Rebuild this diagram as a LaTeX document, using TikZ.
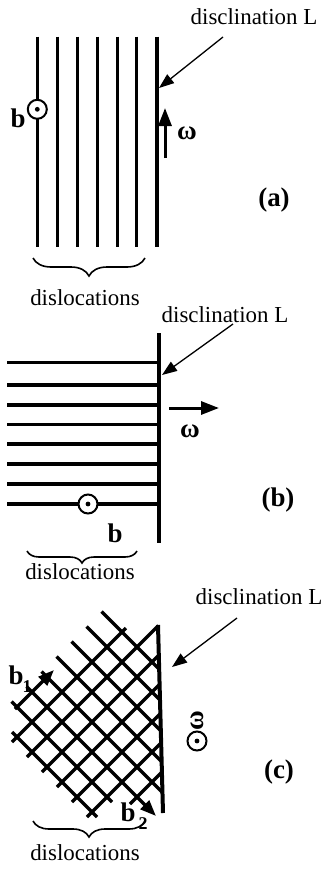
\documentclass[tikz,border=0pt]{standalone}
\usepackage{fontspec}
\setmainfont{Liberation Serif}
\usetikzlibrary{arrows.meta,decorations.pathreplacing}
\begin{document}
\begin{tikzpicture}[x=1bp,y=-1bp,
  lab/.style={font=\fontsize{23}{27}\selectfont, inner sep=0pt},
  blab/.style={font=\fontsize{27}{31}\selectfont\bfseries, inner sep=0pt},
  sublab/.style={font=\fontsize{18}{20}\selectfont\bfseries, inner sep=0pt},
  disl/.style={line width=3.3bp},
  discl/.style={line width=4bp},
  pointer/.style={line width=1.3bp,-{Triangle[length=15bp,width=11bp]}},
  thickarrow/.style={line width=3bp,-{Triangle[length=18bp,width=13bp]}},
  burg/.style={line width=3.3bp,-{Triangle[length=16bp,width=12bp]}},
  dotcirc/.style={circle, draw, line width=2bp, minimum size=19bp, inner sep=0pt, fill=white},
  bracestyle/.style={decorate, line width=1.6bp}
]
\useasboundingbox (0,0) rectangle (328,878);

% ---------- panel (a) ----------
\foreach \x in {37.3,57.3,77.3,97.3,117.3,136.7}
  \draw[disl] (\x,36.7) -- (\x,246.7);
\draw[discl] (156.7,36.7) -- (156.7,246.7);
\node[dotcirc] (ca) at (37.3,109.3) {};
\fill (ca.center) circle (2.4bp);
\node[blab] (ba) at (18,118) {b};
\coordinate (wa0) at (165,158);
\coordinate (wa1) at (165,108);
\draw[thickarrow] (wa0) -- (wa1);
\node[blab] (wla) at (187,133) {ω};
\node[blab] (pa) at (274,200) {(a)};
\node[lab] (La) at (254,17) {disclination L};
\coordinate (La1) at (223,37);
\coordinate (La2) at (159,88);
\draw[pointer] (La1) -- (La2);
\draw[bracestyle, decoration={brace,mirror,amplitude=18bp}] (33,258) -- (145,258);
\node[lab] (da) at (85,298) {dislocations};

% ---------- panel (b) ----------
\foreach \y in {362.7,385,405,424.3,444,464,484,504}
  \draw[disl] (7,\y) -- (159,\y);
\draw[discl] (159,333) -- (159,543);
\node[dotcirc] (cb) at (88,504) {};
\fill (cb.center) circle (2.4bp);
\node[blab] (bb) at (115,533) {b};
\coordinate (wb0) at (169,408);
\coordinate (wb1) at (219,408);
\draw[thickarrow] (wb0) -- (wb1);
\node[blab] (wlb) at (190,431) {ω};
\node[blab] (pb) at (278,500) {(b)};
\node[lab] (Lb) at (225,315) {disclination L};
\coordinate (Lb1) at (233,324);
\coordinate (Lb2) at (162,375);
\draw[pointer] (Lb1) -- (Lb2);
\draw[bracestyle, decoration={brace,mirror,amplitude=12bp}] (27,551) -- (137,551);
\node[lab] (db) at (80,572) {dislocations};

% ---------- panel (c) ----------
\node[lab] (Lc) at (259,597) {disclination L};
\coordinate (Lc1) at (237,618);
\coordinate (Lc2) at (172,667);
\draw[pointer] (Lc1) -- (Lc2);
% grid "\" lines
\draw[disl] (101.5,611.5) -- (159.2,669.2);
\draw[disl] (86.5,626.5) -- (160,700);
\draw[disl] (71.5,641.5) -- (160.8,730.8);
\draw[disl] (56.5,656.5) -- (161.6,761.6);
\draw[disl] (41.5,671.5) -- (162.4,792.4);
\draw[burg] (26.5,686.5) -- (156,816);
\draw[disl] (11.5,701.5) -- (112,802);
\draw[disl] (12,732) -- (97,817);
% grid "/" lines
\draw[burg] (15,709) -- (54,670);
\draw[disl] (12,742) -- (126,628);
\draw[disl] (27,757) -- (158.5,625.5);
\draw[disl] (42,772) -- (158.8,655.2);
\draw[disl] (57,787) -- (159.6,684.4);
\draw[disl] (72,802) -- (160.4,713.6);
\draw[disl] (87,817) -- (161.2,742.8);
\draw[disl] (130,804) -- (162,772);
% disclination line
\draw[discl] (158,625) -- (163,813);
\node[blab] (b1) at (16,675) {b};
\node[sublab] (b1s) at (27,687) {1};
\node[blab] (b2) at (128,812) {b};
\node[sublab] (b2s) at (143,824) {2};
\node[blab, rotate=90] (wlc) at (197,721) {ω};
\node[dotcirc] (cc) at (197,741) {};
\fill (cc.center) circle (2.4bp);
\node[blab] (pc) at (279,772) {(c)};
\draw[bracestyle, decoration={brace,mirror,amplitude=16bp}] (33,821) -- (145,821);
\node[lab] (dc) at (85,853) {dislocations};
\end{tikzpicture}
\end{document}
